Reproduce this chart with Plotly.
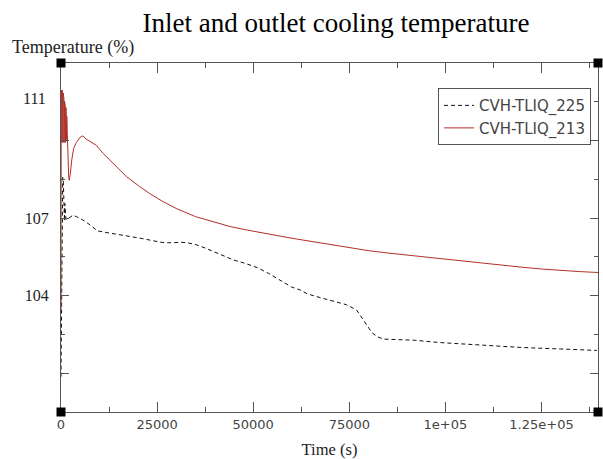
import plotly.graph_objects as go

# ---------------- data ----------------
t_213 = [0, 60, 120, 180, 250, 320, 390, 460, 530, 600, 680, 760, 840, 920, 1000,
         1100, 1200, 1300, 1400, 1500, 1650, 1800, 2000, 2150, 2400, 2800, 3300,
         4000, 5000, 5700, 6500, 7500, 9200, 11000, 13500, 17000, 20500, 23000,
         26500, 30000, 35000, 40000, 44000, 48000, 52600, 57000, 61300, 66000,
         70000, 75000, 80000, 85000, 90000, 95000, 100000, 105000, 110000,
         115000, 120000, 125000, 130000, 135000, 139700]
v_213 = [103.85, 111.4, 109.7, 111.3, 109.6, 111.4, 109.8, 111.2, 109.6, 111.3,
         109.7, 111.1, 109.6, 111.0, 109.7, 110.9, 109.6, 110.8, 109.7, 110.5,
         109.7, 109.0, 108.4, 108.3, 108.5, 109.0, 109.4, 109.6, 109.78, 109.83,
         109.72, 109.64, 109.5, 109.22, 108.89, 108.43, 108.08, 107.85, 107.57,
         107.33, 107.05, 106.86, 106.71, 106.6, 106.48, 106.38, 106.28, 106.18,
         106.08, 105.98, 105.88, 105.8, 105.73, 105.66, 105.58, 105.5, 105.43,
         105.37, 105.31, 105.25, 105.2, 105.16, 105.13]

t_225 = [0, 150, 300, 450, 600, 750, 900, 1000, 1150, 1300, 1600, 2000, 2600,
         3100, 4000, 5500, 7000, 8500, 9500, 12000, 15000, 17900, 21000, 24000,
         26500, 29000, 31000, 33000, 35300, 37500, 39600, 42000, 44900, 48000,
         51000, 54000, 57000, 60000, 62200, 64000, 66500, 70000, 74300, 76900,
         78500, 79500, 81000, 82200, 83800, 87000, 92000, 98600, 105000, 112000,
         120000, 130000, 139400]
v_225 = [101.55, 104.5, 107.5, 108.4, 108.3, 107.6, 106.9, 107.5, 107.2, 106.95,
         107.0, 107.0, 107.05, 107.1, 107.05, 106.95, 106.82, 106.65, 106.56,
         106.5, 106.44, 106.37, 106.3, 106.22, 106.16, 106.15, 106.17, 106.15,
         106.08, 105.97, 105.85, 105.72, 105.56, 105.44, 105.3, 105.1, 104.85,
         104.63, 104.53, 104.4, 104.3, 104.18, 104.02, 103.84, 103.55, 103.33,
         103.05, 102.93, 102.84, 102.83, 102.8, 102.72, 102.67, 102.6, 102.55,
         102.5, 102.45]

x_tickvals = [0, 25000, 50000, 75000, 100000, 125000]
x_ticktext = ["0", "25000", "50000", "75000", "1e+05", "1.25e+05"]
x_minor = [12500, 37500, 62500, 87500, 112500, 137500]
x_range = [0, 139700]

y_range = [100.333, 112.333]
y_major = [109.667, 107.0, 104.333, 101.667]
y_major_text = ["", "107", "104", ""]
y_minor = [111.0, 108.333, 105.667, 103.0]
y_top_label_val = 111.0
y_top_label = "111"

SERIF = "Liberation Serif"
SANS = "DejaVu Sans"
AX = "#555555"

fig = go.Figure()
fig.add_trace(go.Scatter(x=t_225, y=v_225, mode="lines", name="CVH-TLIQ_225",
                         line=dict(color="#111111", width=1, dash="4px,3px")))
fig.add_trace(go.Scatter(x=t_213, y=v_213, mode="lines", name="CVH-TLIQ_213",
                         line=dict(color="#b03028", width=1)))

fig.update_layout(
    width=603, height=459,
    margin=dict(l=61, r=5, t=63, b=47),
    paper_bgcolor="white", plot_bgcolor="white",
    title=dict(text="Inlet and outlet cooling temperature",
               font=dict(family=SERIF, size=27, color="#000000"),
               x=336 / 603, xanchor="center", xref="container",
               y=1 - 23 / 459, yanchor="middle", yref="container"),
    showlegend=True,
    legend=dict(x=0.987, xanchor="right", y=0.928, yanchor="top",
                bgcolor="white", bordercolor=AX, borderwidth=1,
                font=dict(family=SANS, size=15, color="#444444"),
                itemwidth=30),
    xaxis=dict(range=x_range, showgrid=False, zeroline=False,
               showline=True, linecolor=AX, linewidth=1, mirror="ticks",
               ticks="inside", ticklen=10, tickcolor=AX, tickwidth=1,
               tickmode="array", tickvals=x_tickvals, ticktext=x_ticktext,
               tickfont=dict(family=SANS, size=13, color="#444444"),
               minor=dict(tickmode="array", tickvals=x_minor, ticks="inside",
                          ticklen=5, tickcolor=AX, showgrid=False),
               title=dict(text="Time (s)", standoff=12,
                          font=dict(family=SERIF, size=16.5, color="#222222"))),
    yaxis=dict(range=y_range, showgrid=False, zeroline=False,
               showline=True, linecolor=AX, linewidth=1, mirror="ticks",
               ticks="inside", ticklen=8, tickcolor=AX, tickwidth=1,
               tickmode="array", tickvals=y_major, ticktext=y_major_text,
               tickfont=dict(family=SERIF, size=16, color="#222222"),
               ticklabelstandoff=8,
               minor=dict(tickmode="array", tickvals=y_minor, ticks="inside",
                          ticklen=4, tickcolor=AX, showgrid=False)),
)

fig.add_annotation(text=y_top_label, x=0, xref="paper", xanchor="right", xshift=-13,
                   y=y_top_label_val, yref="y", yanchor="middle", yshift=3,
                   showarrow=False,
                   font=dict(family=SERIF, size=16, color="#222222"))
fig.add_annotation(text="Temperature (%)", x=-51 / 536.4, xref="paper", xanchor="left",
                   y=1 + 16 / 349, yref="paper", yanchor="middle", showarrow=False,
                   font=dict(family=SERIF, size=18, color="#222222"))

for cx in (0, 1):
    for cy in (0, 1):
        fig.add_shape(type="rect", xref="paper", yref="paper",
                      xsizemode="pixel", ysizemode="pixel",
                      xanchor=cx, yanchor=cy, x0=-4.5, x1=4.5, y0=-4.5, y1=4.5,
                      fillcolor="black", line=dict(width=0))

fig.write_html("out.html")
